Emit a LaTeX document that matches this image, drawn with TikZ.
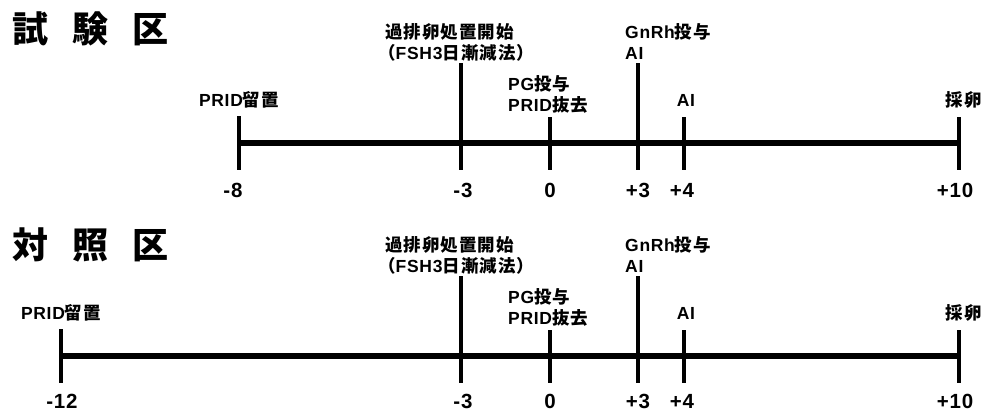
\documentclass[tikz,border=0pt]{standalone}
\usepackage{fontspec}
\setmainfont{Liberation Sans}[LetterSpace=4]
\newfontfamily\jp{Noto Sans CJK JP}[LetterSpace=6]
\newfontfamily\jpt{Noto Sans CJK JP}
\newfontfamily\numf{Liberation Sans}[LetterSpace=4]
\newcommand\J[1]{{\jp #1}}
\begin{document}
\begin{tikzpicture}[x=1pt,y=-1pt,
  lbl/.style={font=\bfseries\fontsize{17.5}{21}\selectfont, inner sep=0pt, align=left},
  numl/.style={font=\numf\bfseries\fontsize{20.5}{24}\selectfont, inner sep=0pt, anchor=base},
  ttl/.style={font=\jpt\bfseries\fontsize{36}{40}\selectfont, inner sep=0pt, anchor=west},
  axisline/.style={line width=6pt},
  tk/.style={line width=3.5pt}]
\useasboundingbox (0,0) rectangle (984,412);

% ---------- test group ----------
\node[ttl] (t1) at (12,29) {試\hspace{24pt}験\hspace{24pt}区};
\coordinate (a1s) at (239,143);
\coordinate (a1e) at (959,143);
\draw[axisline] (a1s) -- (a1e);
\draw[tk] (239,116) -- (239,170);
\draw[tk] (461,63) -- (461,170);
\draw[tk] (550,117) -- (550,170);
\draw[tk] (638,63) -- (638,170);
\draw[tk] (684,117) -- (684,170);
\draw[tk] (959,117) -- (959,170);
\node[lbl] (p1) at (239,100) {PRID\J{留置}};
\node[lbl, anchor=west] (s1) at (385,42.5) {\J{過排卵処置開始}\\\hspace*{-7pt}\J{（}FSH3\J{日漸減法）}};
\node[lbl, anchor=west] (g1) at (508,94) {PG\J{投与}\\PRID\J{抜去}};
\node[lbl, anchor=west] (n1) at (625,41.5) {GnRh\J{投与}\\AI};
\node[lbl] (ai1) at (686,100) {AI};
\node[lbl] (e1) at (964,100) {\J{採卵}};
\node[numl] (m8) at (233,197) {-8};
\node[numl] (m3a) at (463,197) {-3};
\node[numl] (z1) at (550,197) {0};
\node[numl] (p3a) at (638,197) {+3};
\node[numl] (p4a) at (682,197) {+4};
\node[numl] (p10a) at (955,197) {+10};

% ---------- control group ----------
\begin{scope}[shift={(0,213)}]
\node[ttl] (t2) at (12,32) {対\hspace{24pt}照\hspace{24pt}区};
\coordinate (a2s) at (61,143);
\coordinate (a2e) at (959,143);
\draw[axisline] (a2s) -- (a2e);
\draw[tk] (61,116) -- (61,170);
\draw[tk] (461,63) -- (461,170);
\draw[tk] (550,117) -- (550,170);
\draw[tk] (638,63) -- (638,170);
\draw[tk] (684,117) -- (684,170);
\draw[tk] (959,117) -- (959,170);
\node[lbl] (p2) at (61,100) {PRID\J{留置}};
\node[lbl, anchor=west] (s2) at (385,42.5) {\J{過排卵処置開始}\\\hspace*{-7pt}\J{（}FSH3\J{日漸減法）}};
\node[lbl, anchor=west] (g2) at (508,94) {PG\J{投与}\\PRID\J{抜去}};
\node[lbl, anchor=west] (n2) at (625,41.5) {GnRh\J{投与}\\AI};
\node[lbl] (ai2) at (686,100) {AI};
\node[lbl] (e2) at (964,100) {\J{採卵}};
\node[numl] (m12) at (62,195) {-12};
\node[numl] (m3b) at (463,195) {-3};
\node[numl] (z2) at (550,195) {0};
\node[numl] (p3b) at (638,195) {+3};
\node[numl] (p4b) at (682,195) {+4};
\node[numl] (p10b) at (955,195) {+10};
\end{scope}
\end{tikzpicture}
\end{document}
